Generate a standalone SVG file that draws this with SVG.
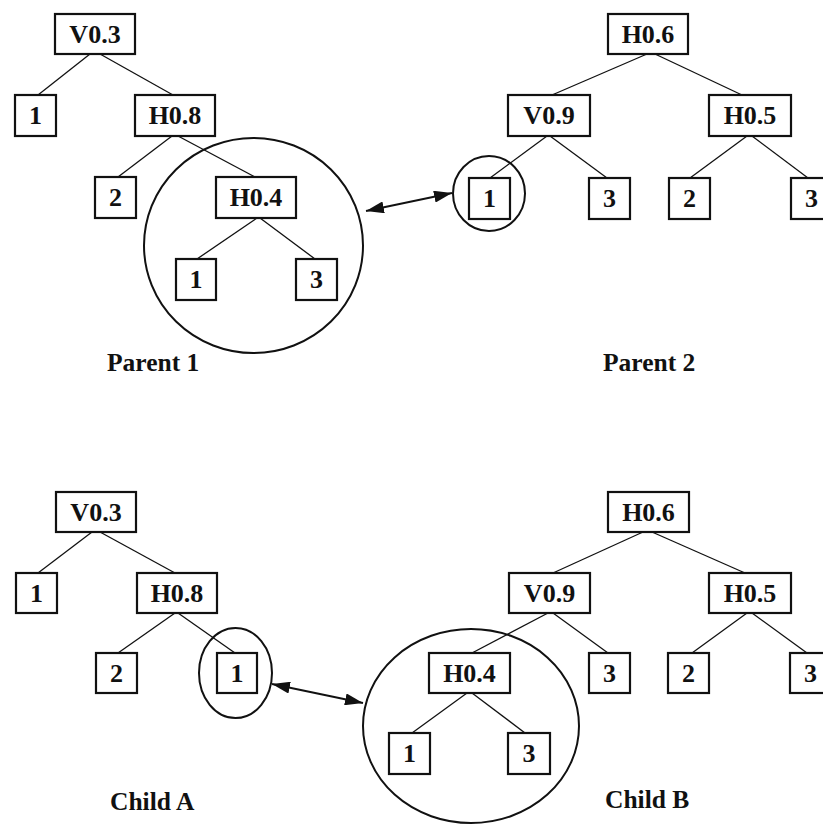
<svg xmlns="http://www.w3.org/2000/svg" width="823" height="826" viewBox="0 0 823 826">
<style>
.box{fill:#fff;stroke:#111;stroke-width:2.2}
.lbl{font-family:"Liberation Serif","Times New Roman",serif;font-weight:bold;font-size:26px;fill:#111;text-anchor:middle}
.cap{font-family:"Liberation Serif","Times New Roman",serif;font-weight:bold;font-size:25.5px;fill:#111}
.edge{stroke:#111;stroke-width:1.3;fill:none}
.ring{stroke:#111;stroke-width:2;fill:none}
.arrow{stroke:#111;stroke-width:1.8;fill:none;marker-start:url(#ah);marker-end:url(#ah)}
</style>
<defs>
<marker id="ah" viewBox="0 0 18 12" refX="18" refY="6" markerWidth="18" markerHeight="12" markerUnits="userSpaceOnUse" orient="auto-start-reverse">
<path d="M0,0 L18,6 L0,12 Z" fill="#111"/>
</marker>
</defs>
<rect width="823" height="826" fill="#fff"/>

<g id="connectors">
<!-- Parent 1 -->
<line class="edge" x1="90" y1="54" x2="38" y2="95"/>
<line class="edge" x1="100" y1="54" x2="173" y2="95"/>
<line class="edge" x1="172" y1="136" x2="118" y2="177"/>
<line class="edge" x1="178" y1="136" x2="255" y2="177"/>
<line class="edge" x1="257" y1="218" x2="197" y2="259"/>
<line class="edge" x1="260" y1="218" x2="315" y2="259"/>
<!-- Parent 2 -->
<line class="edge" x1="647" y1="54" x2="552" y2="95"/>
<line class="edge" x1="655" y1="54" x2="742" y2="95"/>
<line class="edge" x1="547" y1="136" x2="490" y2="178"/>
<line class="edge" x1="550" y1="136" x2="607" y2="178"/>
<line class="edge" x1="747" y1="136" x2="690" y2="178"/>
<line class="edge" x1="752" y1="136" x2="808" y2="178"/>
<!-- Child A -->
<line class="edge" x1="92" y1="532" x2="38" y2="573"/>
<line class="edge" x1="100" y1="532" x2="175" y2="573"/>
<line class="edge" x1="175" y1="613" x2="118" y2="653"/>
<line class="edge" x1="178" y1="613" x2="235" y2="653"/>
<!-- Child B -->
<line class="edge" x1="643" y1="532" x2="553" y2="573"/>
<line class="edge" x1="652" y1="532" x2="745" y2="573"/>
<line class="edge" x1="548" y1="613" x2="472" y2="653"/>
<line class="edge" x1="553" y1="613" x2="608" y2="653"/>
<line class="edge" x1="747" y1="613" x2="692" y2="653"/>
<line class="edge" x1="752" y1="613" x2="807" y2="653"/>
<line class="edge" x1="467" y1="693" x2="412" y2="733"/>
<line class="edge" x1="472" y1="693" x2="525" y2="733"/>
<!-- exchange arrows -->
<line class="arrow" x1="366" y1="211" x2="452" y2="193"/>
<line class="arrow" x1="272" y1="684" x2="363" y2="703"/>
</g>

<g id="p1-V03"><rect class="box" x="55" y="14" width="80" height="40"/><text class="lbl" x="95" y="43">V0.3</text></g>
<g id="p1-1a"><rect class="box" x="15" y="95" width="41" height="41"/><text class="lbl" x="35.5" y="124">1</text></g>
<g id="p1-H08"><rect class="box" x="135" y="95" width="80" height="41"/><text class="lbl" x="175" y="124">H0.8</text></g>
<g id="p1-2"><rect class="box" x="95" y="177" width="41" height="41"/><text class="lbl" x="115.5" y="206">2</text></g>
<g id="p1-H04"><rect class="box" x="216" y="177" width="80" height="41"/><text class="lbl" x="256" y="206">H0.4</text></g>
<g id="p1-1b"><rect class="box" x="176" y="259" width="40" height="41"/><text class="lbl" x="196" y="288">1</text></g>
<g id="p1-3"><rect class="box" x="296" y="259" width="41" height="41"/><text class="lbl" x="316.5" y="288">3</text></g>
<g id="p1-ring"><ellipse class="ring" cx="253.5" cy="245.5" rx="109.5" ry="107.5"/></g>
<g id="p1-label"><text class="cap" x="107" y="371">Parent 1</text></g>

<g id="p2-H06"><rect class="box" x="608" y="14" width="80" height="40"/><text class="lbl" x="648" y="43">H0.6</text></g>
<g id="p2-V09"><rect class="box" x="508" y="95" width="82" height="41"/><text class="lbl" x="549" y="124">V0.9</text></g>
<g id="p2-H05"><rect class="box" x="709" y="95" width="82" height="41"/><text class="lbl" x="750" y="124">H0.5</text></g>
<g id="p2-1"><rect class="box" x="469" y="178" width="41" height="41"/><text class="lbl" x="489.5" y="207">1</text></g>
<g id="p2-3a"><rect class="box" x="589" y="178" width="41" height="41"/><text class="lbl" x="609.5" y="207">3</text></g>
<g id="p2-2"><rect class="box" x="669" y="178" width="41" height="41"/><text class="lbl" x="689.5" y="207">2</text></g>
<g id="p2-3b"><rect class="box" x="791" y="178" width="41" height="41"/><text class="lbl" x="811.5" y="207">3</text></g>
<g id="p2-ring"><ellipse class="ring" cx="489" cy="193.5" rx="36" ry="37.5"/></g>
<g id="p2-label"><text class="cap" x="603" y="371">Parent 2</text></g>

<g id="ca-V03"><rect class="box" x="56" y="492" width="80" height="40"/><text class="lbl" x="96" y="521">V0.3</text></g>
<g id="ca-1a"><rect class="box" x="16" y="573" width="41" height="40"/><text class="lbl" x="36.5" y="602">1</text></g>
<g id="ca-H08"><rect class="box" x="137" y="573" width="80" height="40"/><text class="lbl" x="177" y="602">H0.8</text></g>
<g id="ca-2"><rect class="box" x="96" y="653" width="41" height="40"/><text class="lbl" x="116.5" y="682">2</text></g>
<g id="ca-1b"><rect class="box" x="217" y="653" width="40" height="40"/><text class="lbl" x="237" y="682">1</text></g>
<g id="ca-ring"><ellipse class="ring" cx="235.5" cy="673" rx="36.5" ry="45"/></g>
<g id="ca-label"><text class="cap" x="110" y="810">Child A</text></g>

<g id="cb-H06"><rect class="box" x="608" y="492" width="81" height="40"/><text class="lbl" x="648.5" y="521">H0.6</text></g>
<g id="cb-V09"><rect class="box" x="509" y="573" width="81" height="40"/><text class="lbl" x="549.5" y="602">V0.9</text></g>
<g id="cb-H05"><rect class="box" x="709" y="573" width="82" height="40"/><text class="lbl" x="750" y="602">H0.5</text></g>
<g id="cb-H04"><rect class="box" x="429" y="653" width="81" height="40"/><text class="lbl" x="469.5" y="682">H0.4</text></g>
<g id="cb-3a"><rect class="box" x="589" y="653" width="41" height="40"/><text class="lbl" x="609.5" y="682">3</text></g>
<g id="cb-2"><rect class="box" x="668" y="653" width="41" height="40"/><text class="lbl" x="688.5" y="682">2</text></g>
<g id="cb-3b"><rect class="box" x="790" y="653" width="41" height="40"/><text class="lbl" x="810.5" y="682">3</text></g>
<g id="cb-1"><rect class="box" x="389" y="733" width="41" height="41"/><text class="lbl" x="409.5" y="762">1</text></g>
<g id="cb-3c"><rect class="box" x="508" y="733" width="42" height="41"/><text class="lbl" x="529" y="762">3</text></g>
<g id="cb-ring"><ellipse class="ring" cx="471" cy="726" rx="108" ry="97"/></g>
<g id="cb-label"><text class="cap" x="605" y="808">Child B</text></g>
</svg>
